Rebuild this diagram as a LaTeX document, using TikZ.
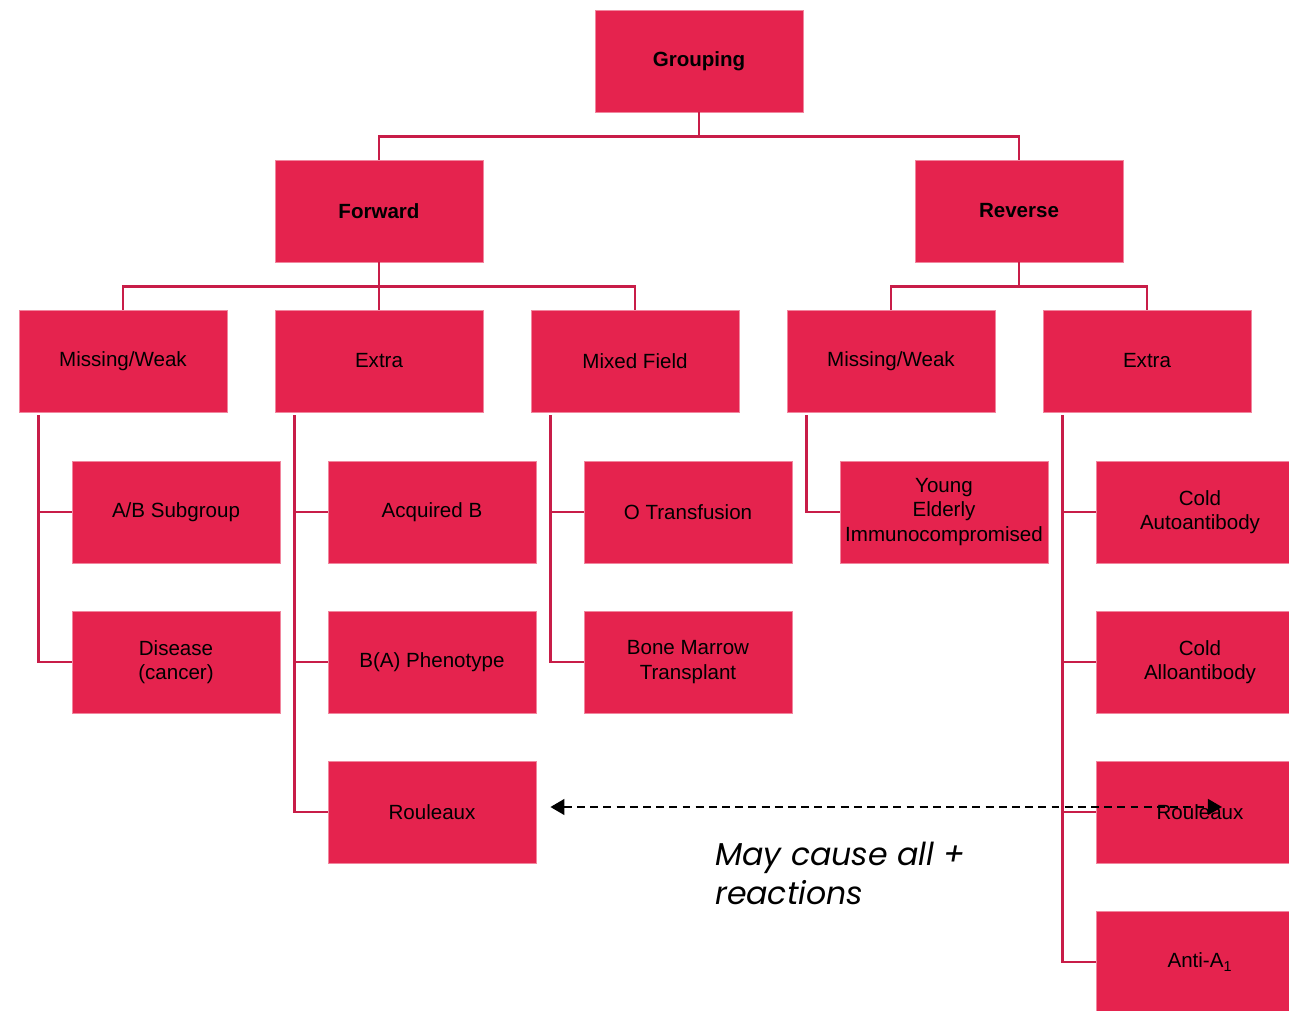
\documentclass[tikz,border=0pt]{standalone}
\usepackage{fontspec}
\setmainfont{Liberation Sans}
\newfontfamily\notefont{Poppins}
\usetikzlibrary{arrows.meta,calc}
\definecolor{boxred}{HTML}{E5234E}
\definecolor{linkred}{HTML}{C81D48}
\tikzset{
  rbox/.style={rectangle,fill=boxred,draw=boxred!55!white,line width=0.5pt,minimum width=4.16cm,minimum height=2.04cm,inner sep=1pt,align=center,font=\fontsize{11.7}{13.9}\selectfont},
  head/.style={rbox,font=\fontsize{11.7}{13.9}\selectfont\bfseries},
  link/.style={linkred,line width=1.4pt},
  note/.style={dash pattern=on 4.5pt off 3pt,line width=1.2pt,{Triangle[length=8pt,width=9pt]}-{Triangle[length=8pt,width=9pt]}},
}
\begin{document}
\begin{tikzpicture}[x=0.02cm,y=-0.02cm]
  \useasboundingbox (0,0) rectangle (1289,1011);
  \clip (0,0) rectangle (1289,1011);
  % root and the two sides
  \node[head] (grp) at (699,61) {Grouping};
  \node[head] (fwd) at (379,211) {Forward};
  \node[head] (rev) at (1019,211) {Reverse};
  % second row
  \node[rbox] (fmw) at (123,361) {Missing/Weak};
  \node[rbox] (fex) at (379,361) {Extra};
  \node[rbox] (fmf) at (635,361) {Mixed Field};
  \node[rbox] (rmw) at (891,361) {Missing/Weak};
  \node[rbox] (rex) at (1147,361) {Extra};
  % leaves, shifted 53 to the right of their parent
  \node[rbox] (ab)    at (176,512)  {A/B Subgroup};
  \node[rbox] (dis)   at (176,662)  {Disease\\(cancer)};
  \node[rbox] (acqb)  at (432,512)  {Acquired B};
  \node[rbox] (bab)   at (432,662)  {B(A) Phenotype};
  \node[rbox] (rlxf)  at (432,812)  {Rouleaux};
  \node[rbox] (otr)   at (688,512)  {O Transfusion};
  \node[rbox] (bmt)   at (688,662)  {Bone Marrow\\Transplant};
  \node[rbox] (yei)   at (944,512)  {Young\\Elderly\\Immunocompromised};
  \node[rbox] (cauto) at (1200,512) {Cold\\Autoantibody};
  \node[rbox] (callo) at (1200,662) {Cold\\Alloantibody};
  \node[rbox] (rlxr)  at (1200,812) {Rouleaux};
  \node[rbox] (antia) at (1200,962) {Anti-A\textsubscript{1}};
  % tree links
  \draw[link] (grp.south) -- ++(0,24) coordinate (gj);
  \draw[link] (fwd.north) |- (gj) -| (rev.north);
  \draw[link] (fwd.south) -- ++(0,24) coordinate (fj);
  \draw[link] (fmw.north) |- (fj) -| (fmf.north);
  \draw[link] (fex.north) -- (fj);
  \draw[link] (rev.south) -- ++(0,24) coordinate (rj);
  \draw[link] (rmw.north) |- (rj) -| (rex.north);
  % side rails down to the leaves
  \foreach \p/\kids in {fmw/{ab,dis},fex/{acqb,bab,rlxf},fmf/{otr,bmt},rmw/{yei},rex/{cauto,callo,rlxr,antia}}{
    \foreach \k in \kids{
      \draw[link] ($(\p.south west)+(20,3)$) |- (\k.west);
    }
  }
  % rouleaux on both sides
  \draw[note] ($(rlxf.east)+(14,-5)$) -- ($(rlxr.center)+(22,-5)$);
  \node[anchor=north west,align=left,font=\notefont\itshape\fontsize{18}{22}\selectfont] (cap) at (709,836) {May cause all +\\reactions};
\end{tikzpicture}
\end{document}
